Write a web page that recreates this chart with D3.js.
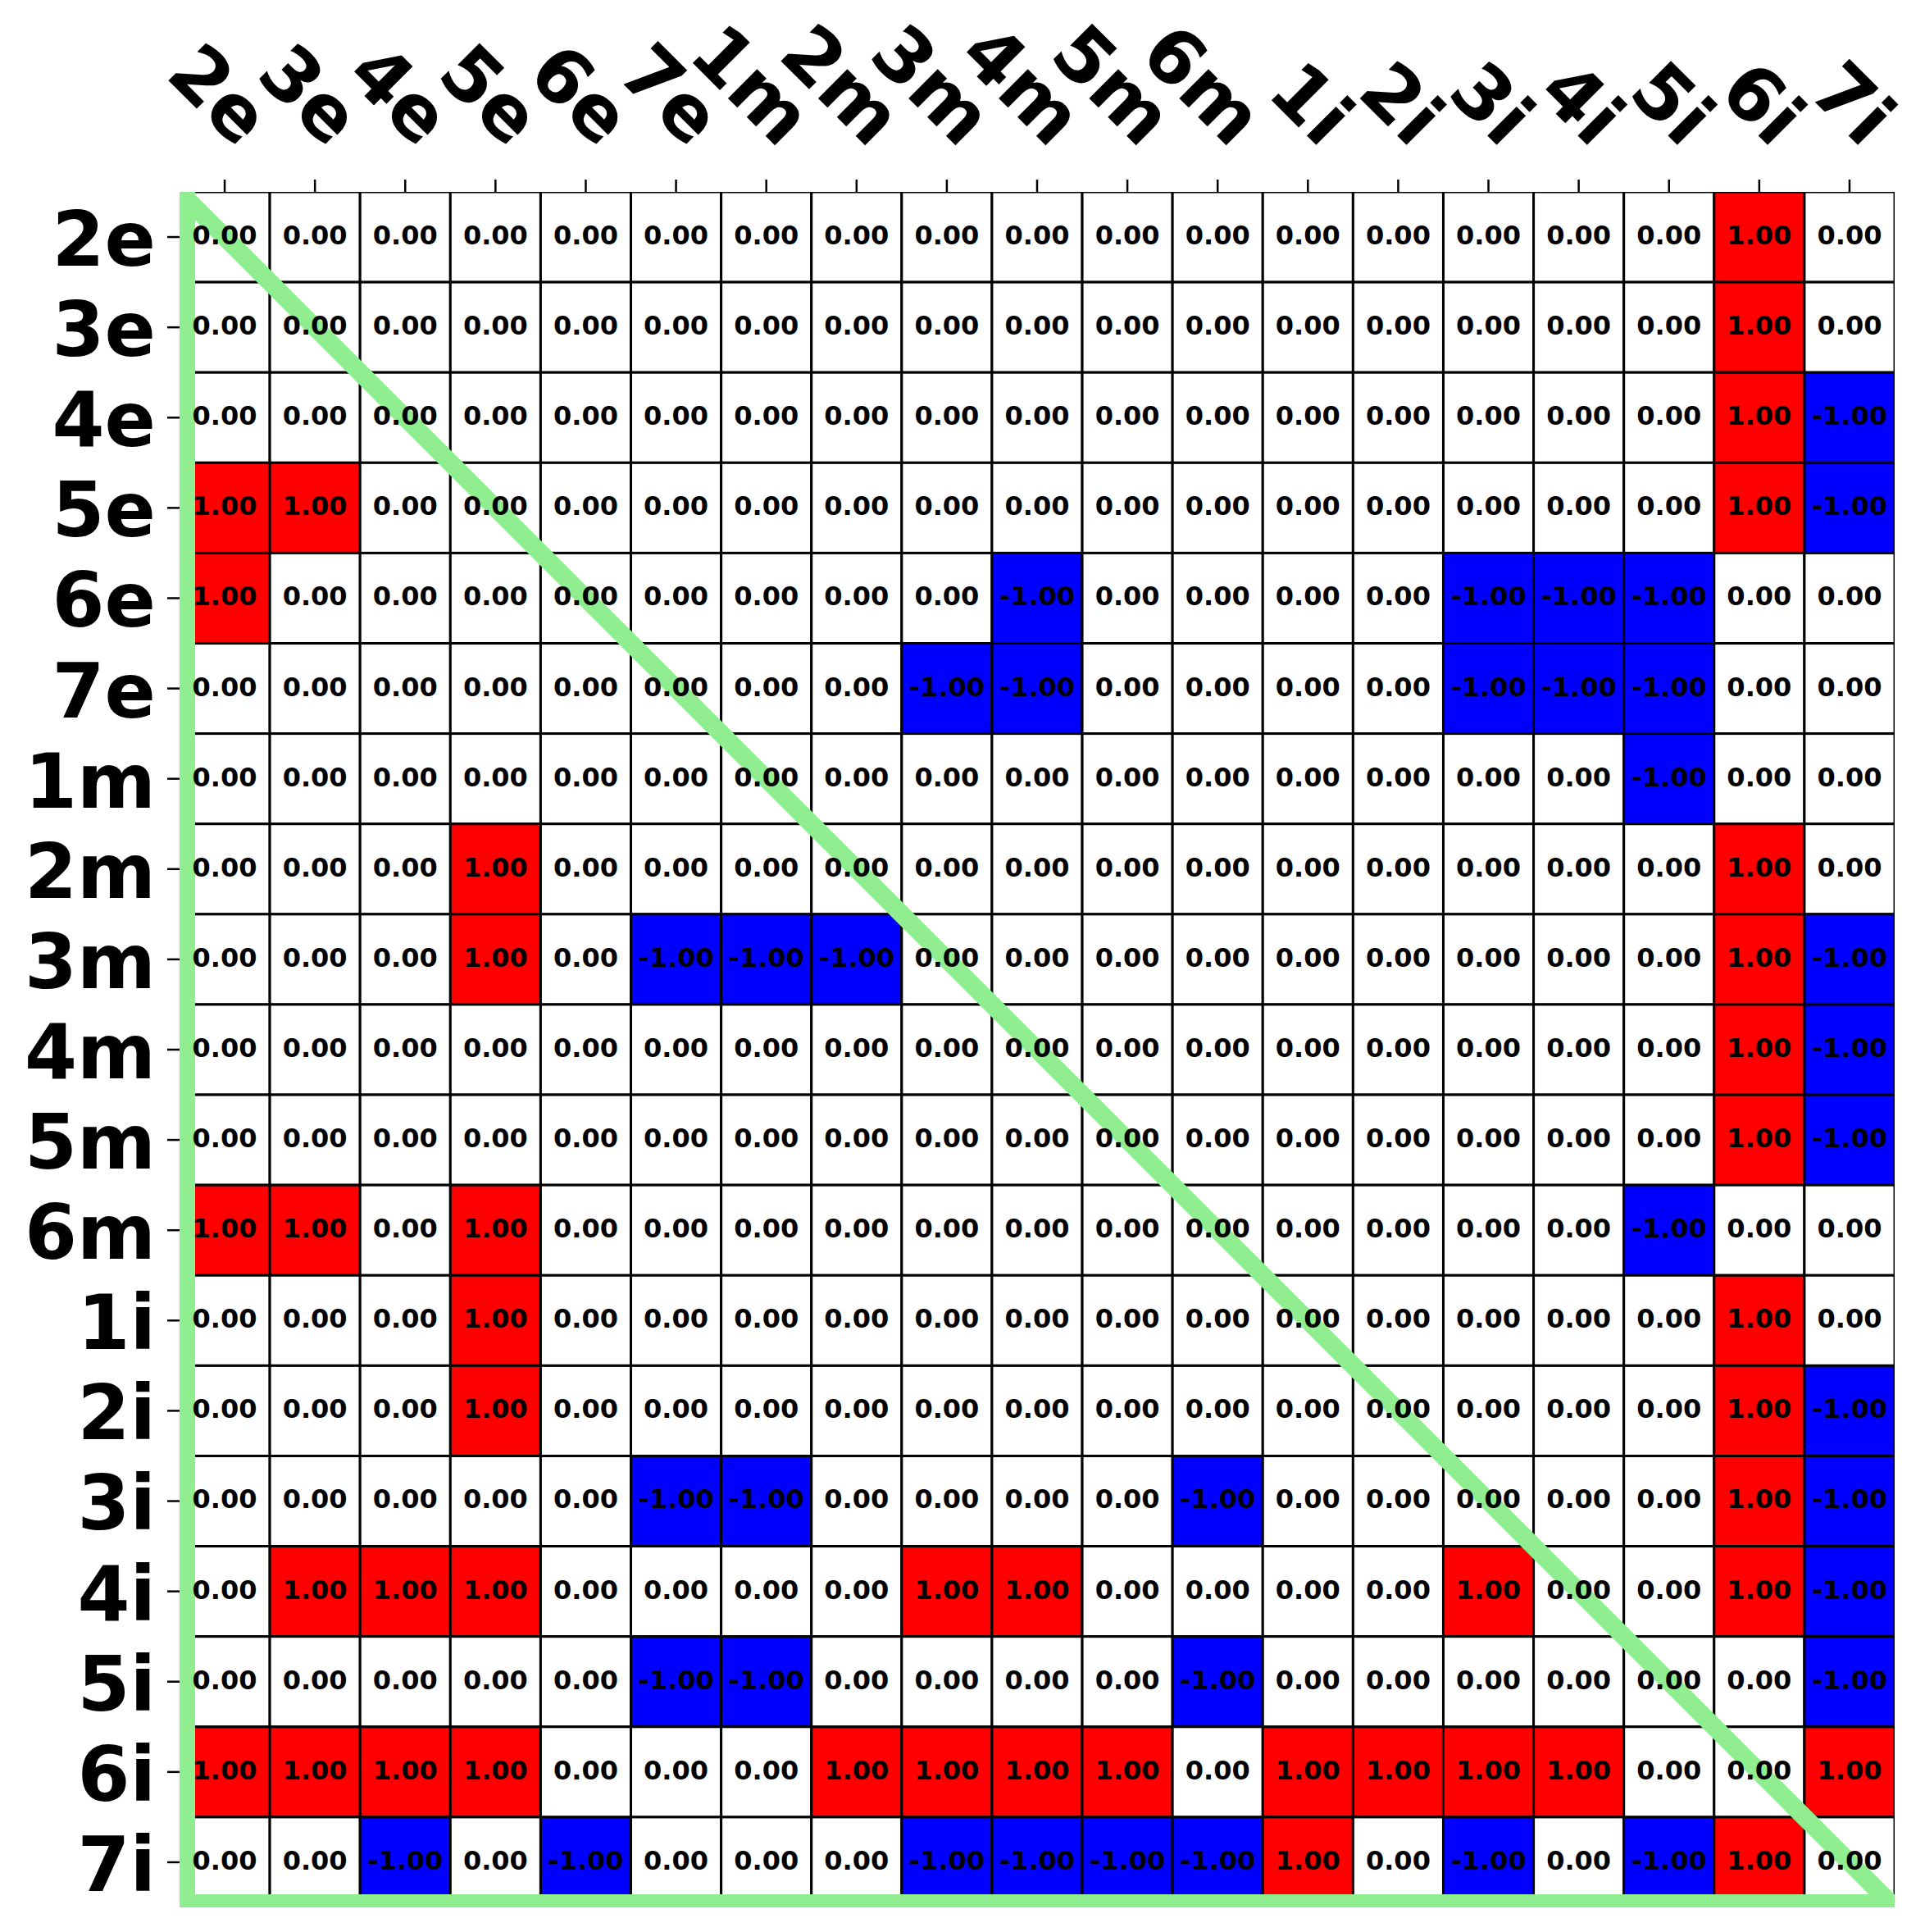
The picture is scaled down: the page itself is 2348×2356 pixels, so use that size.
<!DOCTYPE html>
<html><head><meta charset="utf-8">
<script src="https://cdn.jsdelivr.net/npm/d3@7"></script>
<style>body{margin:0;background:#fff} svg{display:block}</style>
</head><body>
<svg id="chart" width="2348" height="2356"></svg>
<script>
const rowLabels = ["2e","3e","4e","5e","6e","7e","1m","2m","3m","4m","5m","6m","1i","2i","3i","4i","5i","6i","7i"];
const colLabels = ["2e","3e","4e","5e","6e","7e","1m","2m","3m","4m","5m","6m","1i","2i","3i","4i","5i","6i","7i"];
const values = [
 [0,0,0,0,0,0,0,0,0,0,0,0,0,0,0,0,0,1,0],
 [0,0,0,0,0,0,0,0,0,0,0,0,0,0,0,0,0,1,0],
 [0,0,0,0,0,0,0,0,0,0,0,0,0,0,0,0,0,1,-1],
 [1,1,0,0,0,0,0,0,0,0,0,0,0,0,0,0,0,1,-1],
 [1,0,0,0,0,0,0,0,0,-1,0,0,0,0,-1,-1,-1,0,0],
 [0,0,0,0,0,0,0,0,-1,-1,0,0,0,0,-1,-1,-1,0,0],
 [0,0,0,0,0,0,0,0,0,0,0,0,0,0,0,0,-1,0,0],
 [0,0,0,1,0,0,0,0,0,0,0,0,0,0,0,0,0,1,0],
 [0,0,0,1,0,-1,-1,-1,0,0,0,0,0,0,0,0,0,1,-1],
 [0,0,0,0,0,0,0,0,0,0,0,0,0,0,0,0,0,1,-1],
 [0,0,0,0,0,0,0,0,0,0,0,0,0,0,0,0,0,1,-1],
 [1,1,0,1,0,0,0,0,0,0,0,0,0,0,0,0,-1,0,0],
 [0,0,0,1,0,0,0,0,0,0,0,0,0,0,0,0,0,1,0],
 [0,0,0,1,0,0,0,0,0,0,0,0,0,0,0,0,0,1,-1],
 [0,0,0,0,0,-1,-1,0,0,0,0,-1,0,0,0,0,0,1,-1],
 [0,1,1,1,0,0,0,0,1,1,0,0,0,0,1,0,0,1,-1],
 [0,0,0,0,0,-1,-1,0,0,0,0,-1,0,0,0,0,0,0,-1],
 [1,1,1,1,0,0,0,1,1,1,1,0,1,1,1,1,0,0,1],
 [0,0,-1,0,-1,0,0,0,-1,-1,-1,-1,1,0,-1,0,-1,1,0]
];

const svg = d3.select("#chart");
const x = d3.scaleBand().domain(colLabels).range([219, 2311]).padding(0);
const y = d3.scaleBand().domain(rowLabels).range([234, 2326]).padding(0);
const color = d3.scaleLinear().domain([-1,0,1]).range(["#0000ff","#ffffff","#ff0000"]);
const fmt0 = d3.format(".2f");
const fmt = v => fmt0(v).replace("\u2212", "-");
const FONT = "'DejaVu Sans', sans-serif";

const [x0, x1] = x.range();
const [y0, y1] = y.range();

svg.append("defs").append("clipPath").attr("id","plotclip")
  .append("rect").attr("x", x0).attr("y", y0).attr("width", x1 - x0).attr("height", y1 - y0);

const cells = [];
values.forEach((row, i) => row.forEach((v, j) => cells.push({r: rowLabels[i], c: colLabels[j], v})));

const plot = svg.append("g").attr("clip-path","url(#plotclip)");
plot.selectAll("rect.cell").data(cells).join("rect")
  .attr("class","cell")
  .attr("x", d => x(d.c)).attr("y", d => y(d.r))
  .attr("width", x.bandwidth()).attr("height", y.bandwidth())
  .attr("fill", d => color(d.v))
  .attr("stroke", "#000").attr("stroke-width", 3);

// green triangle
const green = "#90ee90";
plot.append("line").attr("x1", x0).attr("y1", y0).attr("x2", x0).attr("y2", y1)
  .attr("stroke", green).attr("stroke-width", 38);
plot.append("line").attr("x1", x0).attr("y1", y1).attr("x2", x1).attr("y2", y1)
  .attr("stroke", green).attr("stroke-width", 32);
plot.append("line").attr("x1", x0).attr("y1", y0).attr("x2", x1).attr("y2", y1)
  .attr("stroke", green).attr("stroke-width", 22);

svg.append("g").selectAll("text").data(cells).join("text")
  .attr("x", d => x(d.c) + x.bandwidth()/2)
  .attr("y", d => y(d.r) + y.bandwidth()/2)
  .attr("dy", "0.28em")
  .attr("text-anchor","middle")
  .attr("font-family", FONT).attr("font-weight","bold").attr("font-size", 32)
  .attr("fill","#000")
  .text(d => fmt(d.v));

// axes
const xAxis = svg.append("g").attr("transform", `translate(0,${y0})`)
  .call(d3.axisTop(x).tickSize(15).tickPadding(0));
xAxis.select(".domain").remove();
xAxis.selectAll(".tick line").attr("stroke","#000").attr("stroke-width",2.5);
xAxis.selectAll(".tick text")
  .attr("x",0).attr("y",0).attr("dy","-0.24em")
  .attr("text-anchor","end")
  .attr("transform","translate(0,-36) rotate(45)")
  .attr("font-family", FONT).attr("font-weight","bold").attr("font-size", 92).attr("fill","#000");

const yAxis = svg.append("g").attr("transform", `translate(${x0},0)`)
  .call(d3.axisLeft(y).tickSize(15).tickPadding(14));
yAxis.select(".domain").remove();
yAxis.selectAll(".tick line").attr("stroke","#000").attr("stroke-width",2.5);
yAxis.selectAll(".tick text")
  .attr("dy","0.38em")
  .attr("font-family", FONT).attr("font-weight","bold").attr("font-size", 92).attr("fill","#000");
xAxis.attr("font-family", null).attr("font-size", null);
yAxis.attr("font-family", null).attr("font-size", null);
</script>
</body></html>
